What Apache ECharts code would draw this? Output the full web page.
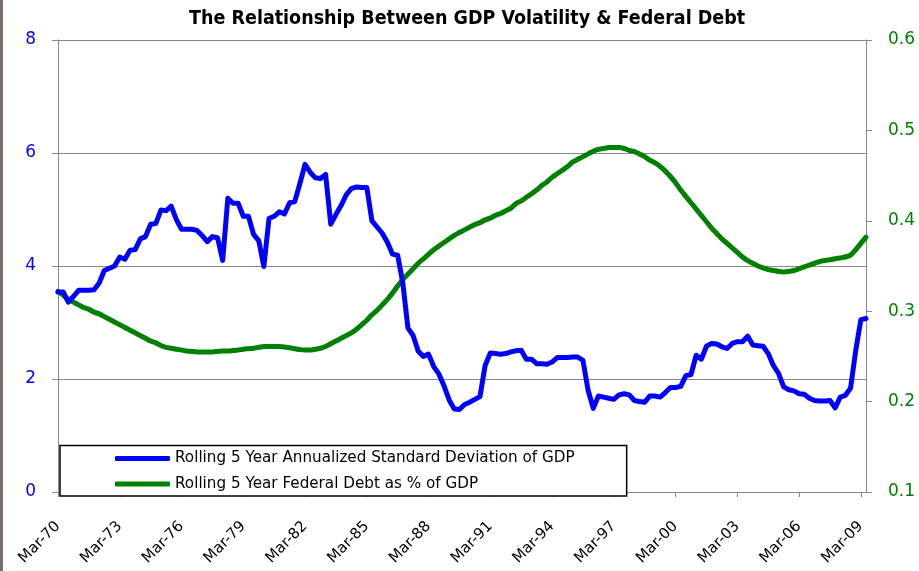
<!DOCTYPE html>
<html>
<head>
<meta charset="utf-8">
<script src="https://cdn.jsdelivr.net/npm/echarts@6/dist/echarts.min.js"></script>
<style>
html,body{margin:0;padding:0;background:#fff;}
#c{width:919px;height:571px;}
</style>
</head>
<body>
<div id="c"></div>
<script>
const titleText = 'The Relationship Between GDP Volatility & Federal Debt';
const seriesNames = ['Rolling 5 Year Annualized Standard Deviation of GDP', 'Rolling 5 Year Federal Debt as % of GDP'];
const quarterMonths = ['Mar', 'Jun', 'Sep', 'Dec'];
const startYear = 1970;
const quarterCount = 158; // Mar-70 .. Jun-09

const gdpVolatility = [
3.54,3.54,3.36,3.46,3.57,3.57,3.57,3.58,3.70,3.92,
3.96,4.00,4.16,4.12,4.28,4.29,4.48,4.52,4.74,4.75,
4.99,4.98,5.06,4.82,4.65,4.65,4.65,4.63,4.54,4.43,
4.52,4.50,4.10,5.20,5.11,5.11,4.88,4.88,4.56,4.45,
3.99,4.84,4.88,4.96,4.92,5.12,5.14,5.46,5.80,5.66,
5.56,5.55,5.62,4.74,4.91,5.07,5.26,5.37,5.40,5.39,
5.39,4.80,4.69,4.58,4.42,4.21,4.19,3.70,2.90,2.77,
2.49,2.40,2.44,2.22,2.09,1.88,1.63,1.47,1.46,1.55,
1.59,1.64,1.69,2.24,2.46,2.45,2.44,2.45,2.48,2.50,
2.51,2.35,2.35,2.27,2.27,2.26,2.30,2.38,2.38,2.38,
2.39,2.39,2.33,1.80,1.48,1.70,1.68,1.66,1.64,1.72,
1.74,1.72,1.62,1.60,1.59,1.70,1.70,1.68,1.76,1.85,
1.85,1.87,2.06,2.08,2.42,2.35,2.58,2.63,2.62,2.57,
2.54,2.63,2.66,2.66,2.76,2.60,2.59,2.58,2.45,2.24,
2.10,1.86,1.81,1.79,1.74,1.73,1.66,1.62,1.61,1.61,
1.62,1.49,1.68,1.71,1.84,2.50,3.05,3.07
];

const federalDebt = [
0.322,0.318,0.313,0.310,0.307,0.304,0.302,0.299,0.297,0.294,
0.291,0.288,0.285,0.282,0.279,0.276,0.273,0.270,0.267,0.265,
0.262,0.260,0.259,0.258,0.257,0.256,0.2555,0.255,0.255,0.255,
0.255,0.2555,0.256,0.256,0.2565,0.257,0.258,0.2585,0.259,0.260,
0.261,0.261,0.261,0.261,0.2605,0.2595,0.2585,0.2575,0.257,0.257,
0.258,0.259,0.261,0.264,0.267,0.270,0.273,0.276,0.280,0.285,
0.290,0.296,0.301,0.307,0.313,0.320,0.328,0.335,0.341,0.347,
0.353,0.358,0.363,0.368,0.372,0.376,0.380,0.384,0.387,0.390,
0.393,0.396,0.398,0.401,0.403,0.406,0.408,0.411,0.414,0.419,
0.422,0.426,0.430,0.434,0.439,0.443,0.448,0.452,0.456,0.460,
0.465,0.468,0.471,0.474,0.477,0.479,0.480,0.481,0.481,0.481,
0.480,0.478,0.4765,0.474,0.471,0.467,0.464,0.460,0.455,0.449,
0.442,0.434,0.427,0.420,0.413,0.406,0.399,0.392,0.386,0.380,
0.375,0.370,0.365,0.360,0.356,0.353,0.350,0.348,0.346,0.345,
0.344,0.3435,0.344,0.345,0.347,0.349,0.351,0.353,0.355,0.356,
0.357,0.358,0.359,0.360,0.362,0.368,0.375,0.382
];

const categories = [];
for (let i = 0; i < quarterCount; i++) {
  const y = startYear + Math.floor(i / 4);
  categories.push(quarterMonths[i % 4] + '-' + String(y % 100).padStart(2, '0'));
}

const FONT = '"DejaVu Sans", Verdana, sans-serif';
const TITLE_FONT = '"DejaVu Sans Condensed", "DejaVu Sans", sans-serif';
const GRID_COLOR = '#878787';

const chart = echarts.init(document.getElementById('c'), null, {renderer: 'canvas'});
chart.setOption({
  animation: false,
  backgroundColor: '#ffffff',
  title: {
    text: titleText,
    left: 184,
    top: 4,
    textStyle: {fontFamily: TITLE_FONT, fontSize: 19.5, fontWeight: 'bold', color: '#000'}
  },
  graphic: [{
    type: 'rect', left: 0, top: 0, shape: {x: 0, y: 0, width: 3, height: 571},
    style: {fill: '#776f68'}, z: 100
  }],
  legend: {
    data: seriesNames,
    orient: 'vertical',
    left: 60,
    top: 445.5,
    padding: [5, 52, 4, 55],
    icon: 'roundRect',
    itemWidth: 55,
    itemHeight: 5,
    itemGap: 9.6,
    borderColor: '#000',
    borderWidth: 1.5,
    backgroundColor: '#fff',
    selectedMode: false,
    textStyle: {fontFamily: FONT, fontSize: 15.2, lineHeight: 16, color: '#000'}
  },
  grid: {left: 58, right: 53, top: 40, bottom: 79, containLabel: false},
  xAxis: {
    type: 'category',
    data: categories,
    boundaryGap: false,
    axisLine: {lineStyle: {color: GRID_COLOR, width: 1}},
    axisTick: {show: true, interval: 11, length: 5, lineStyle: {color: GRID_COLOR}},
    axisLabel: {interval: 11, rotate: 45, margin: 32, fontFamily: FONT, fontSize: 15, color: '#000'},
    splitLine: {show: false}
  },
  yAxis: [{
    type: 'value',
    position: 'left',
    min: 0, max: 8, interval: 2,
    axisLine: {show: true, lineStyle: {color: GRID_COLOR, width: 1}},
    axisTick: {show: true, length: 6, lineStyle: {color: GRID_COLOR}},
    axisLabel: {margin: 22, fontFamily: FONT, fontSize: 17, color: '#0000FF'},
    splitLine: {show: true, lineStyle: {color: GRID_COLOR, width: 1}}
  }, {
    type: 'value',
    position: 'right',
    min: 0.1, max: 0.6, interval: 0.1,
    axisLine: {show: true, lineStyle: {color: GRID_COLOR, width: 1}},
    axisTick: {show: true, length: 6, lineStyle: {color: GRID_COLOR}},
    axisLabel: {margin: 22, fontFamily: FONT, fontSize: 17, color: '#008000',
      formatter: v => v.toFixed(1)},
    splitLine: {show: false}
  }],
  series: [{
    name: seriesNames[0],
    type: 'line',
    yAxisIndex: 0,
    data: gdpVolatility,
    symbol: 'none',
    z: 3,
    lineStyle: {color: '#0000FF', width: 5, join: 'round', cap: 'round'},
    itemStyle: {color: '#0000FF'}
  }, {
    name: seriesNames[1],
    type: 'line',
    yAxisIndex: 1,
    data: federalDebt,
    symbol: 'none',
    smooth: 0.3,
    z: 2,
    lineStyle: {color: '#008000', width: 5, cap: 'round'},
    itemStyle: {color: '#008000'}
  }]
});
</script>
</body>
</html>
